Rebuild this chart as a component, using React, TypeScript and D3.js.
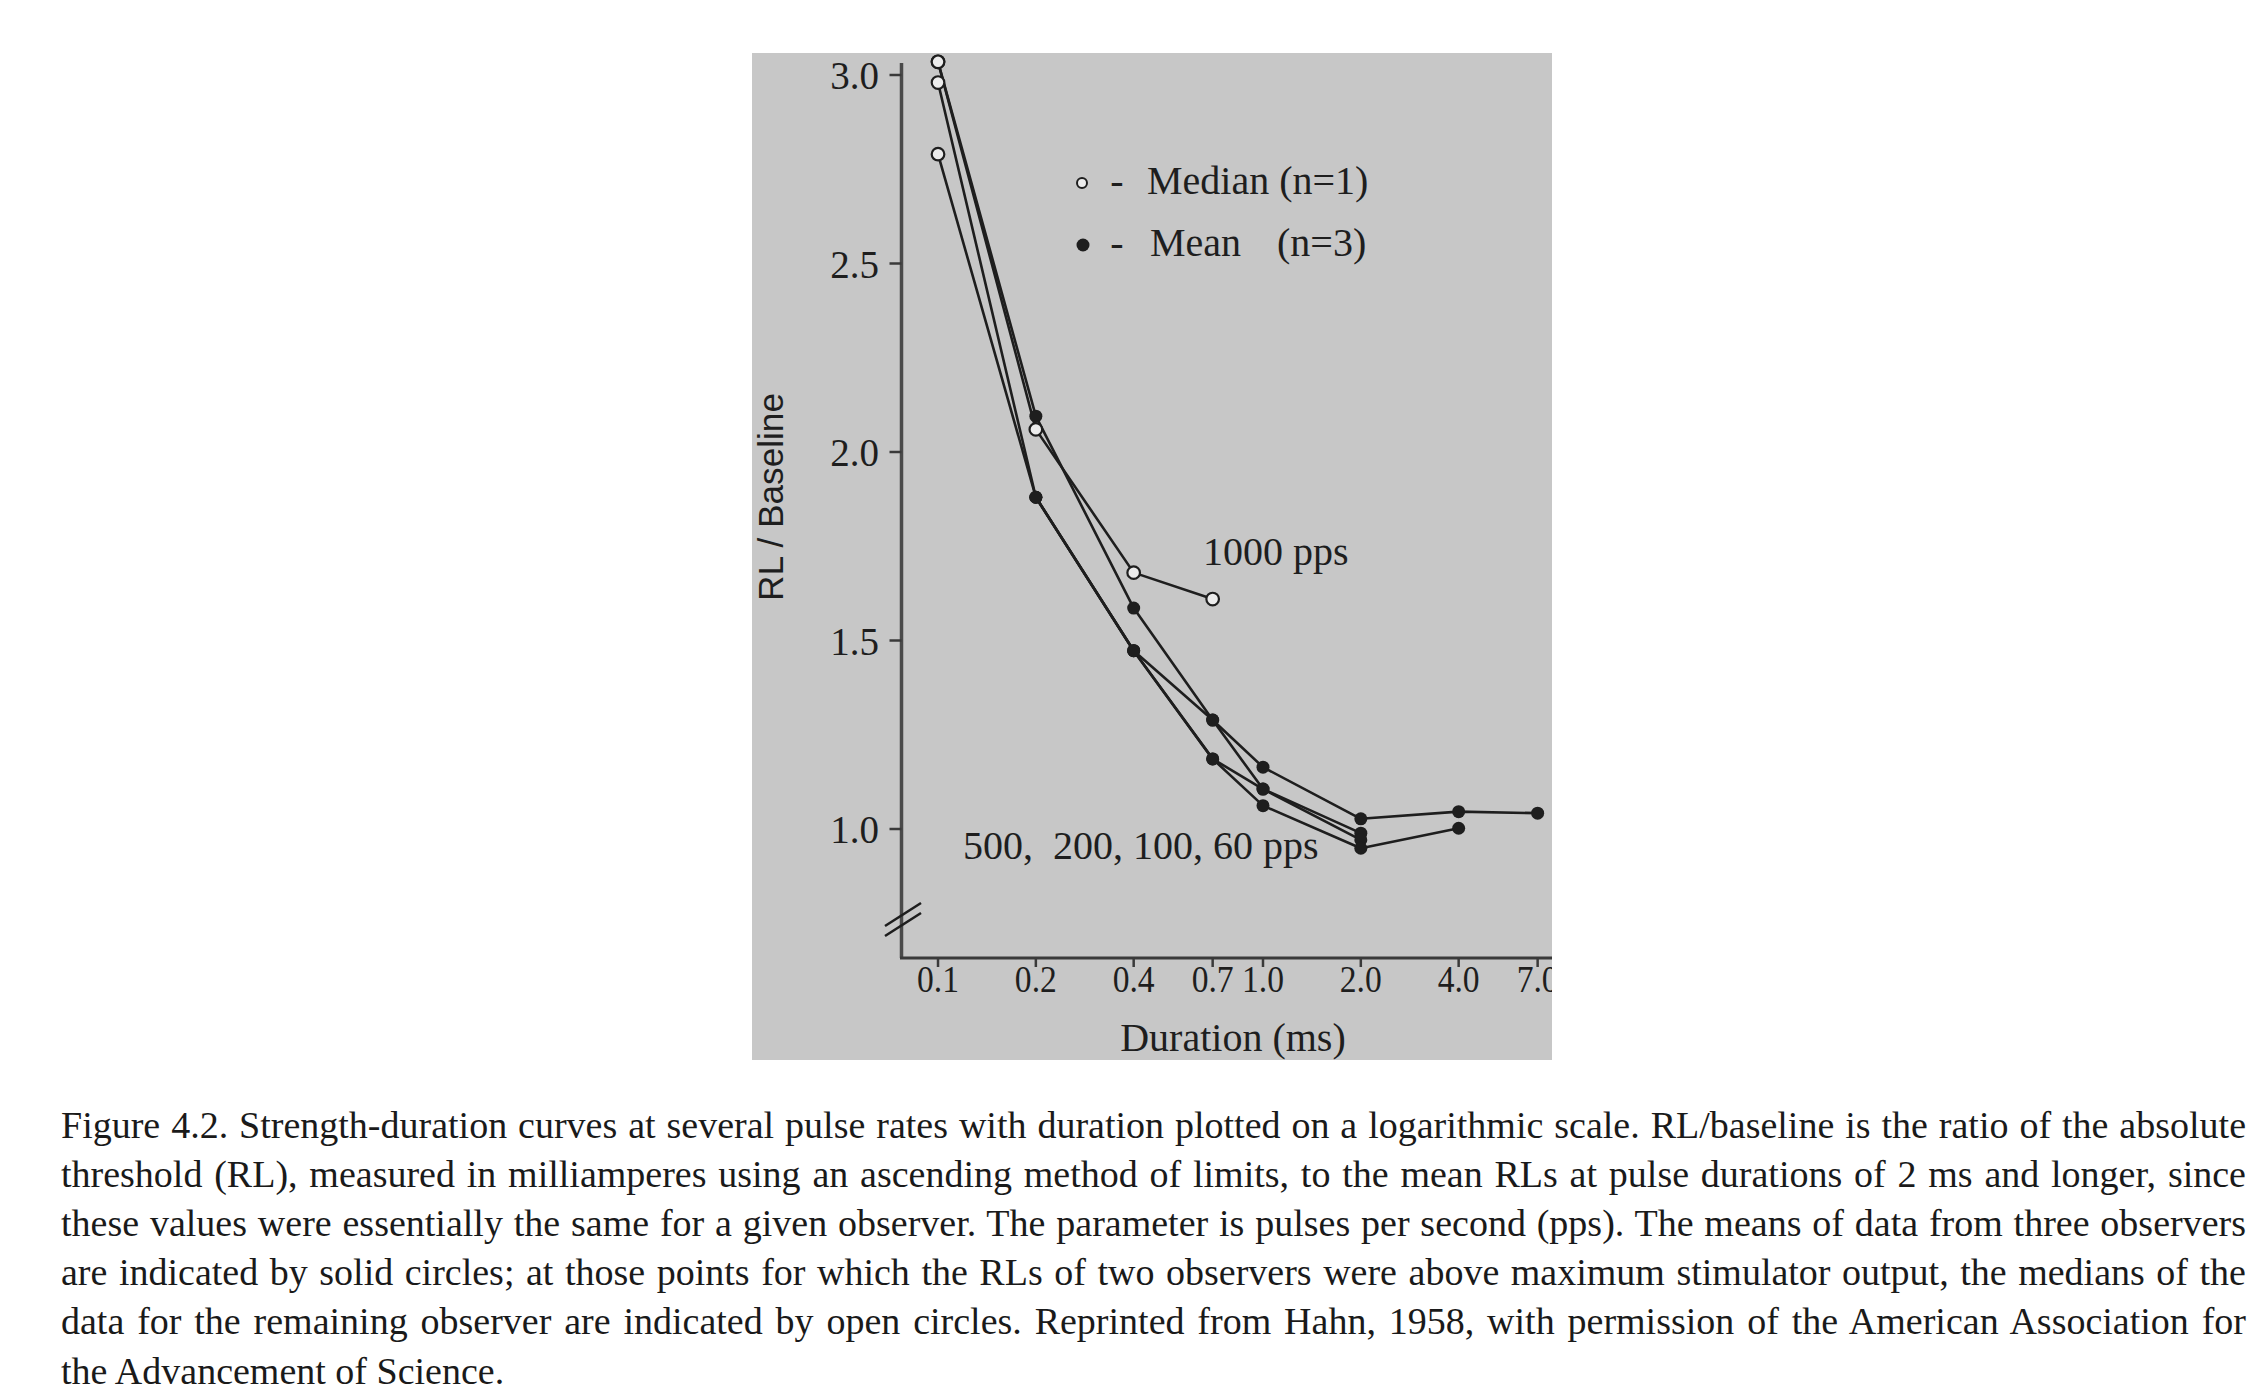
import React, { useEffect, useRef } from 'react';
import * as d3 from 'd3';

// ---------- data ----------
const durations = [0.1, 0.2, 0.4, 0.7, 1.0, 2.0, 4.0, 7.0];
const xTickValues = [0.1, 0.2, 0.4, 0.7, 1.0, 2.0, 4.0, 7.0];
const xTickLabels = ['0.1', '0.2', '0.4', '0.7', '1.0', '2.0', '4.0', '7.0'];
const yTickValues = [1.0, 1.5, 2.0, 2.5, 3.0];
const yTickLabels = ['1.0', '1.5', '2.0', '2.5', '3.0'];

// RL / Baseline per duration (null = no point)
const rl1000 = [3.035, 2.06, 1.68, 1.61, null, null, null, null];
const rl500 = [3.035, 2.095, 1.586, 1.289, 1.164, 1.027, 1.046, 1.042];
const rl200 = [2.98, 1.88, 1.473, 1.289, 1.106, 0.989, null, null];
const rl100 = [2.79, 1.88, 1.473, 1.186, 1.106, 0.971, null, null];
const rl60 = [null, 1.88, 1.473, 1.186, 1.062, 0.949, 1.002, null];

// marker kind per point: 'o' = median (open circle), 'm' = mean (solid circle)
const mk1000 = ['o', 'o', 'o', 'o', 'o', 'o', 'o', 'o'];
const mk500 = ['o', 'm', 'm', 'm', 'm', 'm', 'm', 'm'];
const mk200 = ['o', 'm', 'm', 'm', 'm', 'm', 'm', 'm'];
const mk100 = ['o', 'm', 'm', 'm', 'm', 'm', 'm', 'm'];
const mk60 = ['m', 'm', 'm', 'm', 'm', 'm', 'm', 'm'];

const seriesNames = ['1000 pps', '500 pps', '200 pps', '100 pps', '60 pps'];
const seriesValues = [rl1000, rl500, rl200, rl100, rl60];
const seriesMarkers = [mk1000, mk500, mk200, mk100, mk60];

const legendLabels = ['Median (n=1)', 'Mean', '(n=3)'];
const annotation1000 = '1000 pps';
const annotationOthers = '500,  200, 100, 60 pps';
const xTitle = 'Duration (ms)';
const yTitle = 'RL / Baseline';

const captionLines = [
  'Figure 4.2. Strength-duration curves at several pulse rates with duration plotted on a logarithmic scale. RL/baseline is the ratio of the absolute',
  'threshold (RL), measured in milliamperes using an ascending method of limits, to the mean RLs at pulse durations of 2 ms and longer, since',
  'these values were essentially the same for a given observer. The parameter is pulses per second (pps). The means of data from three observers',
  'are indicated by solid circles; at those points for which the RLs of two observers were above maximum stimulator output, the medians of the',
  'data for the remaining observer are indicated by open circles. Reprinted from Hahn, 1958, with permission of the American Association for',
  'the Advancement of Science.',
];

// ---------- layout ----------
const W = 2268;
const H = 1400;
const panel = { x0: 752, y0: 53, x1: 1552, y1: 1060 };
const axisLeft = 901.5;
const axisBottom = 958;
const axisTop = 63;

const x = d3.scaleLog().domain([0.0772, 7.75]).range([axisLeft, panel.x1]);
const y = d3.scaleLinear().domain([1, 3]).range([829, 75]);

const serif = "'Liberation Serif', 'Times New Roman', Times, serif";
const ink = '#1e1e1e';
const panelFill = '#c7c7c7';
const openFill = '#ececec';

const captionX0 = 61;
const captionX1 = 2246;
const captionBase = 1138;
const captionStep = 49.1;

type Pt = { d: number; v: number; k: string };

export default function App() {
  const capRef = useRef<SVGGElement | null>(null);

  useEffect(() => {
    if (!capRef.current) return;
    const target = captionX1 - captionX0;
    d3.select(capRef.current)
      .selectAll<SVGTextElement, unknown>('text.cap')
      .each(function (_d, i) {
        const el = this;
        el.setAttribute('word-spacing', '0');
        if (i === captionLines.length - 1) return;
        const natural = el.getComputedTextLength();
        const spaces = (captionLines[i].match(/ /g) || []).length;
        const ws = (target - natural) / spaces;
        el.setAttribute('word-spacing', ws.toFixed(3));
      });
  }, []);

  const series: Pt[][] = seriesValues.map((vals, si) =>
    durations
      .map((d, i) => ({ d, v: vals[i] as number, k: seriesMarkers[si][i] }))
      .filter((p) => p.v !== null && p.v !== undefined)
  );

  const line = d3
    .line<Pt>()
    .x((p) => x(p.d))
    .y((p) => y(p.v));

  const allPts = series.flat();
  const meanPts = allPts.filter((p) => p.k === 'm');
  const medPts = allPts.filter((p) => p.k === 'o');

  return (
    <svg
      width={W}
      height={H}
      viewBox={`0 0 ${W} ${H}`}
      style={{ position: 'absolute', left: 0, top: 0, background: '#ffffff' }}
    >
      <defs>
        <clipPath id="panelClip">
          <rect x={panel.x0} y={panel.y0} width={panel.x1 - panel.x0} height={panel.y1 - panel.y0} />
        </clipPath>
      </defs>
      <rect x={0} y={0} width={W} height={H} fill="#ffffff" />
      <rect
        x={panel.x0}
        y={panel.y0}
        width={panel.x1 - panel.x0}
        height={panel.y1 - panel.y0}
        fill={panelFill}
      />

      <g clipPath="url(#panelClip)">
        {/* axes */}
        <line x1={axisLeft} y1={axisTop} x2={axisLeft} y2={axisBottom} stroke="#4a4a4a" strokeWidth={3.5} />
        <line x1={axisLeft - 1.5} y1={axisBottom} x2={panel.x1} y2={axisBottom} stroke="#3a3a3a" strokeWidth={3} />

        {/* axis break */}
        <line x1={885} y1={926} x2={921} y2={903} stroke={ink} strokeWidth={2.6} />
        <line x1={885} y1={936} x2={921} y2={913} stroke={ink} strokeWidth={2.6} />

        {/* y ticks */}
        {yTickValues.map((v, i) => (
          <g key={'yt' + i}>
            <line x1={axisLeft - 12} x2={axisLeft} y1={y(v)} y2={y(v)} stroke="#3a3a3a" strokeWidth={2.5} />
            <text
              x={879}
              y={y(v)}
              dy="0.36em"
              textAnchor="end"
              fontFamily={serif}
              fontSize={39}
              fill={ink}
            >
              {yTickLabels[i]}
            </text>
          </g>
        ))}

        {/* x ticks */}
        {xTickValues.map((v, i) => (
          <g key={'xt' + i}>
            <line x1={x(v)} x2={x(v)} y1={axisBottom} y2={axisBottom + 9} stroke="#3a3a3a" strokeWidth={2.5} />
            <text
              x={x(v)}
              y={992}
              textAnchor="middle"
              fontFamily={serif}
              fontSize={38}
              textLength={42}
              lengthAdjust="spacingAndGlyphs"
              fill={ink}
            >
              {xTickLabels[i]}
            </text>
          </g>
        ))}

        {/* series lines */}
        {series.map((pts, si) => (
          <path
            key={'s' + si}
            d={line(pts) || ''}
            fill="none"
            stroke={ink}
            strokeWidth={2.6}
            strokeLinejoin="round"
            data-name={seriesNames[si]}
          />
        ))}

        {/* mean markers */}
        {meanPts.map((p, i) => (
          <circle key={'m' + i} cx={x(p.d)} cy={y(p.v)} r={6.5} fill={ink} />
        ))}
        {/* median markers */}
        {medPts.map((p, i) => (
          <circle
            key={'o' + i}
            cx={x(p.d)}
            cy={y(p.v)}
            r={6.3}
            fill={openFill}
            stroke={ink}
            strokeWidth={2.2}
          />
        ))}

        {/* legend */}
        <circle cx={1082} cy={183} r={5} fill={openFill} stroke={ink} strokeWidth={2} />
        <circle cx={1083} cy={245} r={6.5} fill={ink} />
        <text x={1117} y={194} textAnchor="middle" fontFamily={serif} fontSize={40} fill={ink}>-</text>
        <text x={1117} y={256} textAnchor="middle" fontFamily={serif} fontSize={40} fill={ink}>-</text>
        <text x={1147} y={194} fontFamily={serif} fontSize={40} fill={ink}>{legendLabels[0]}</text>
        <text x={1150} y={256} fontFamily={serif} fontSize={40} fill={ink}>{legendLabels[1]}</text>
        <text x={1277} y={256} fontFamily={serif} fontSize={40} fill={ink}>{legendLabels[2]}</text>

        {/* annotations */}
        <text x={1203} y={565} fontFamily={serif} fontSize={40} fill={ink}>{annotation1000}</text>
        <text x={963} y={859} fontFamily={serif} fontSize={40} fill={ink} style={{ whiteSpace: 'pre' }}>
          {annotationOthers}
        </text>

        {/* axis titles */}
        <text x={1233} y={1051} textAnchor="middle" fontFamily={serif} fontSize={40} fill={ink}>
          {xTitle}
        </text>
        <text
          transform="translate(783,497) rotate(-90)"
          textAnchor="middle"
          fontFamily="'Liberation Sans', Arial, sans-serif"
          fontSize={35}
          textLength={208}
          lengthAdjust="spacingAndGlyphs"
          fill={ink}
        >
          {yTitle}
        </text>
      </g>

      {/* caption */}
      <g ref={capRef}>
        {captionLines.map((t, i) => (
          <text
            key={'c' + i}
            className="cap"
            x={captionX0}
            y={captionBase + i * captionStep}
            fontFamily={serif}
            fontSize={38}
            fill="#1a1a1a"
          >
            {t}
          </text>
        ))}
      </g>
    </svg>
  );
}
